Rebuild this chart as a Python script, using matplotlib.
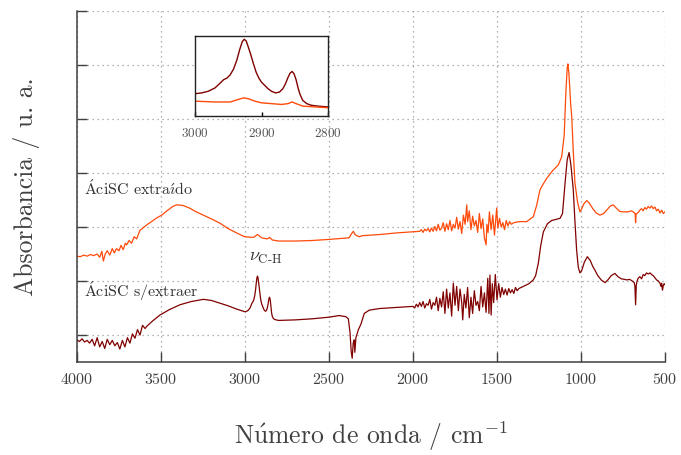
import matplotlib
matplotlib.use("Agg")
import matplotlib.pyplot as plt

plt.rcParams['font.family'] = ['cmr10', 'DejaVu Serif']
plt.rcParams['mathtext.fontset'] = 'cm'
plt.rcParams['axes.formatter.use_mathtext'] = True
plt.rcParams['axes.unicode_minus'] = False

# extracted sample (orange)
wn_ext = [4000, 3980, 3960, 3940, 3920, 3900, 3880, 3865, 3852, 3843, 3832, 3820, 3805,
          3790, 3778, 3765, 3750, 3738, 3725, 3712, 3704, 3690, 3675, 3660, 3645, 3625,
          3600, 3580, 3556, 3530, 3496, 3460, 3430, 3407, 3370, 3330, 3290, 3248, 3200,
          3149, 3100, 3050, 3010, 3000, 2970, 2947, 2935, 2927, 2920, 2910, 2900, 2885,
          2870, 2860, 2854, 2848, 2838, 2820, 2800, 2780, 2700, 2600, 2500, 2420, 2380,
          2365, 2355, 2345, 2335, 2320, 2300, 2200, 2100, 2000, 1960,
          1950, 1940, 1930, 1920, 1910, 1900, 1890, 1880, 1870, 1860, 1850, 1840, 1830,
          1820, 1810, 1800, 1790, 1780, 1770, 1760, 1750, 1740, 1730, 1720, 1710, 1700,
          1690, 1680, 1675, 1665, 1655, 1645, 1635, 1625, 1615, 1605, 1595, 1585, 1575,
          1565, 1560, 1553, 1545, 1535, 1525, 1515, 1502, 1495, 1485, 1475, 1465, 1455,
          1445, 1435, 1425, 1415, 1400, 1385, 1363, 1323, 1284, 1264, 1244, 1224, 1204,
          1170, 1135, 1115, 1100, 1090, 1082, 1078, 1072, 1062, 1055, 1046, 1036, 1020,
          1006, 995, 985, 966, 950, 930, 910, 887, 865, 845, 825, 808, 790, 770, 750, 720,
          700, 685, 678, 675, 672, 660, 650, 640, 630, 620, 610, 600, 590, 580, 570, 560,
          550, 540, 530, 520, 510, 500]
ab_ext = [1.46, 1.45, 1.48, 1.46, 1.49, 1.47, 1.50, 1.44, 1.55, 1.37, 1.50, 1.56, 1.48,
          1.60, 1.52, 1.60, 1.56, 1.66, 1.58, 1.70, 1.67, 1.75, 1.70, 1.82, 1.78, 1.94,
          2.00, 2.05, 2.10, 2.16, 2.22, 2.31, 2.38, 2.41, 2.40, 2.35, 2.28, 2.22, 2.15,
          2.07, 1.97, 1.89, 1.83, 1.82, 1.81, 1.81, 1.84, 1.86, 1.85, 1.82, 1.80, 1.79,
          1.78, 1.79, 1.81, 1.79, 1.76, 1.75, 1.74, 1.74, 1.74, 1.75, 1.77, 1.79, 1.80,
          1.88, 1.92, 1.86, 1.84, 1.82, 1.84, 1.86, 1.89, 1.91, 1.92,
          1.95, 1.90, 1.96, 1.93, 1.97, 1.91, 1.98, 1.92, 2.01, 1.93, 2.05, 1.94, 1.98,
          2.08, 1.92, 2.06, 1.95, 2.12, 1.93, 2.05, 1.98, 2.18, 1.96, 2.10, 1.88, 2.22,
          2.05, 2.41, 2.10, 2.30, 1.95, 2.20, 2.02, 2.12, 1.90, 2.25, 1.97, 2.15, 1.80,
          1.67, 2.05, 1.90, 2.28, 1.95, 2.22, 1.85, 2.35, 1.98, 2.16, 2.00, 2.08, 1.95,
          2.12, 2.02, 2.10, 2.05, 2.08, 2.09, 2.10, 2.10, 2.19, 2.40, 2.69, 2.80, 2.90,
          3.04, 3.15, 3.30, 3.70, 4.50, 4.95, 5.02, 4.85, 4.30, 4.04, 3.40, 2.81, 2.45,
          2.28, 2.34, 2.42, 2.49, 2.44, 2.34, 2.26, 2.22, 2.25, 2.32, 2.39, 2.41, 2.35,
          2.29, 2.28, 2.28, 2.30, 2.27, 2.25, 2.08, 2.24, 2.27, 2.31, 2.34, 2.30, 2.36,
          2.33, 2.38, 2.35, 2.39, 2.34, 2.37, 2.30, 2.33, 2.26, 2.31, 2.25, 2.28]

# sample without extraction (maroon)
wn_raw = [4000, 3985, 3970, 3955, 3940, 3925, 3910, 3895, 3880, 3865, 3850, 3835, 3820,
          3805, 3790, 3775, 3760, 3745, 3730, 3715, 3700, 3685, 3670, 3655, 3640, 3625,
          3610, 3595, 3585, 3550, 3506, 3450, 3387, 3320, 3248, 3200, 3149, 3100, 3050,
          3010, 3000, 2990, 2980, 2970, 2962, 2957, 2952, 2947, 2942, 2937, 2933, 2929,
          2926, 2923, 2920, 2916, 2912, 2908, 2904, 2900, 2895, 2890, 2885, 2879, 2873,
          2868, 2864, 2860, 2857, 2854, 2851, 2848, 2845, 2842, 2838, 2832, 2825, 2815,
          2800, 2700, 2600, 2500, 2440, 2400, 2385, 2375, 2368, 2362, 2356, 2350, 2346,
          2340, 2325, 2310, 2290, 2260, 2200, 2100, 2000,
          1990, 1980, 1970, 1960, 1950, 1940, 1930, 1920, 1910, 1900, 1890, 1880, 1870,
          1860, 1850, 1840, 1830, 1820, 1810, 1800, 1790, 1780, 1770, 1760, 1750, 1740,
          1730, 1720, 1710, 1704, 1695, 1685, 1675, 1665, 1655, 1645, 1635, 1625, 1615,
          1605, 1595, 1585, 1575, 1565, 1555, 1548, 1542, 1535, 1528, 1520, 1510, 1500,
          1490, 1480, 1470, 1460, 1450, 1440, 1430, 1420, 1410, 1400, 1390, 1380, 1370,
          1343, 1310, 1284, 1270, 1254, 1240, 1224, 1200, 1175, 1150, 1125, 1110, 1095,
          1082, 1071, 1060, 1046, 1036, 1026, 1016, 1006, 995, 980, 962, 945, 930, 917,
          900, 880, 857, 840, 820, 798, 780, 760, 740, 729, 710, 695, 683, 679, 675, 671,
          667, 660, 650, 639, 630, 620, 610, 600, 589, 580, 570, 560, 550, 540, 530, 524,
          520, 515, 510, 505, 500]
ab_raw = [-0.09, -0.12, -0.07, -0.13, -0.10, -0.15, -0.08, -0.20, -0.05, -0.22, -0.12,
          -0.25, -0.08, -0.18, -0.10, -0.20, -0.14, -0.26, -0.10, -0.22, -0.05, -0.15,
          0.02, -0.06, 0.10, 0.00, 0.18, 0.12, 0.16, 0.26, 0.37, 0.47, 0.56, 0.62, 0.66,
          0.64, 0.59, 0.54, 0.48, 0.44, 0.43, 0.44, 0.46, 0.50, 0.56, 0.60, 0.62, 0.66,
          0.73, 0.84, 0.96, 1.06, 1.09, 1.07, 1.00, 0.90, 0.79, 0.69, 0.62, 0.57, 0.53,
          0.49, 0.46, 0.44, 0.45, 0.49, 0.55, 0.63, 0.68, 0.70, 0.67, 0.60, 0.50, 0.42,
          0.35, 0.31, 0.29, 0.28, 0.27, 0.28, 0.30, 0.33, 0.36, 0.34, 0.30, 0.05, -0.30,
          -0.43, -0.15, -0.09, -0.32, -0.05, 0.10, 0.20, 0.40, 0.46, 0.49, 0.51, 0.53,
          0.50, 0.57, 0.52, 0.60, 0.53, 0.62, 0.50, 0.58, 0.55, 0.66, 0.48, 0.60, 0.55,
          0.70, 0.45, 0.68, 0.52, 0.80, 0.40, 0.85, 0.50, 0.78, 0.35, 0.96, 0.55, 0.90,
          0.45, 0.85, 0.60, 0.28, 0.75, 0.50, 0.88, 0.32, 0.70, 0.40, 0.82, 0.55, 0.62,
          0.45, 0.90, 0.52, 0.78, 0.42, 1.05, 0.40, 1.11, 0.37, 0.95, 0.60, 1.12, 0.65,
          0.95, 0.70, 0.88, 0.75, 0.85, 0.74, 0.86, 0.78, 0.84, 0.77, 0.88, 0.82, 0.86,
          0.90, 0.95, 1.02, 1.10, 1.33, 1.65, 1.91, 2.06, 2.12, 2.14, 2.16, 2.25, 2.81,
          3.25, 3.38, 3.15, 2.69, 2.10, 1.57, 1.25, 1.15, 1.20, 1.35, 1.45, 1.38, 1.27,
          1.20, 1.10, 1.02, 0.97, 1.02, 1.10, 1.14, 1.08, 1.04, 1.03, 1.02, 1.03, 1.00,
          0.97, 0.90, 0.56, 0.92, 0.99, 1.05, 1.08, 1.04, 1.12, 1.10, 1.15, 1.13, 1.15,
          1.12, 1.10, 1.06, 1.02, 1.00, 0.96, 0.90, 0.96, 0.83, 0.92, 0.95, 0.93]

x_ticks = [4000, 3500, 3000, 2500, 2000, 1500, 1000, 500]
inset_ticks = [3000, 2900, 2800]

c_ext = '#ff4a0a'
c_raw = '#800000'
txt = '#404040'

fig = plt.figure(figsize=(6.81, 4.55), dpi=100)
ax = fig.add_axes([77 / 681, 1 - 362 / 455, 588 / 681, 351 / 455])

ax.plot(wn_ext, ab_ext, color=c_ext, lw=0.9)
ax.plot(wn_raw, ab_raw, color=c_raw, lw=0.9)

ax.set_xlim(4000, 500)
ax.set_ylim(-0.5, 6)
ax.set_xticks(x_ticks)
ax.set_yticks(range(0, 7))
ax.set_yticklabels([])
ax.tick_params(direction='in', length=7, width=1, color=txt, labelcolor=txt, labelsize=11.5)
ax.tick_params(axis='x', pad=7)
ax.grid(True, linestyle=(0, (1, 3)), color='#999999', lw=0.9)
ax.set_axisbelow(True)
for s in ['top', 'right']:
    ax.spines[s].set_visible(False)
for s in ['left', 'bottom']:
    ax.spines[s].set_color(txt)
    ax.spines[s].set_linewidth(1.1)

ax.set_xlabel(r'N$\acute{\mathrm{u}}$mero de onda / cm$^{-1}$', fontsize=18.5, color=txt, labelpad=24)
ax.set_ylabel('Absorbancia / u. a.', fontsize=18.5, color=txt, labelpad=23)

ax.text(3960, 2.72, r'$\acute{\mathrm{A}}$ciSC extra$\acute{\imath}$do', fontsize=11.5,
        color='#333333', va='center')
ax.text(3960, 0.82, r'$\acute{\mathrm{A}}$ciSC s/extraer', fontsize=11.5,
        color='#333333', va='center')
ax.text(2975, 1.42, r'$\nu_{\mathrm{C\text{-}H}}$', fontsize=13, color='#333333', va='center')

# inset with the C-H stretching region
ins = fig.add_axes([195 / 681, 1 - 116 / 455, 133 / 681, 80 / 455])
ins.plot(wn_raw, ab_raw, color=c_raw, lw=1.0)
ins.plot(wn_ext, [v - 1.48 for v in ab_ext], color=c_ext, lw=1.0)
ins.set_xlim(3000, 2800)
ins.set_ylim(0.16, 1.13)
ins.set_xticks(inset_ticks)
ins.set_yticks([])
ins.tick_params(direction='in', length=3, width=1, labelsize=9.5, labelcolor='#555555', pad=8)
for s in ins.spines.values():
    s.set_linewidth(1.0)
    s.set_color('#222222')

fig.savefig('out.png', dpi=100)
